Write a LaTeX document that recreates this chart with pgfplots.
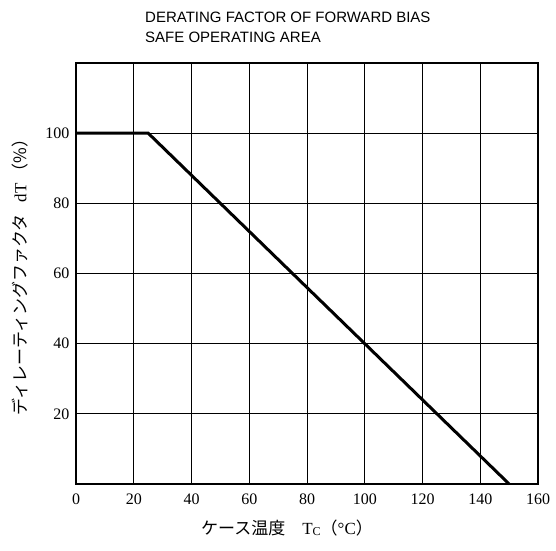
\documentclass[border=0pt]{standalone}
\usepackage{fontspec}
\setmainfont{Liberation Serif}
\newfontfamily\titlefont{Liberation Sans}
\newfontfamily\cjk{Noto Sans CJK JP}
\usepackage{pgfplots}
\pgfplotsset{compat=1.18}
\begin{document}
\begin{tikzpicture}
\useasboundingbox (0,0) rectangle (556pt,550pt);
\begin{axis}[
  at={(76pt,66pt)}, anchor=south west,
  width=462pt, height=421pt, scale only axis,
  xmin=0, xmax=160, ymin=0, ymax=120,
  xtick={0,20,...,160},
  ytick={0,20,...,120},
  yticklabels={,20,40,60,80,100,},
  grid=major,
  major grid style={black, line width=0.7pt},
  major tick length=0pt,
  axis line style={black, line width=1.4pt},
  tick label style={font=\fontsize{16}{16}\selectfont},
  /pgf/number format/assume math mode=true,
  xticklabel style={yshift=-6pt},
  yticklabel style={xshift=-3pt},
  clip=false,
]
\addplot[black, line width=3pt, line join=miter] coordinates {(0,100) (25,100) (150,0)};
\end{axis}
\node[anchor=north west, align=left, font=\titlefont\fontsize{15}{20}\selectfont, inner sep=0pt] at (145pt,538pt) {DERATING FACTOR OF FORWARD BIAS\\SAFE OPERATING AREA};
\node[font=\fontsize{17}{17}\selectfont] at (287pt,22pt) {{\cjk ケース温度}\hspace{1em}T\raisebox{-1.5pt}{\fontsize{12}{12}\selectfont C}{\cjk （}°C{\cjk ）}};
\node[rotate=90, font=\fontsize{17}{17}\selectfont] at (20pt,277pt) {{\cjk ディレーティングファクタ}\hspace{0.7em}dT\,{\cjk （\%）}};
\end{tikzpicture}
\end{document}
